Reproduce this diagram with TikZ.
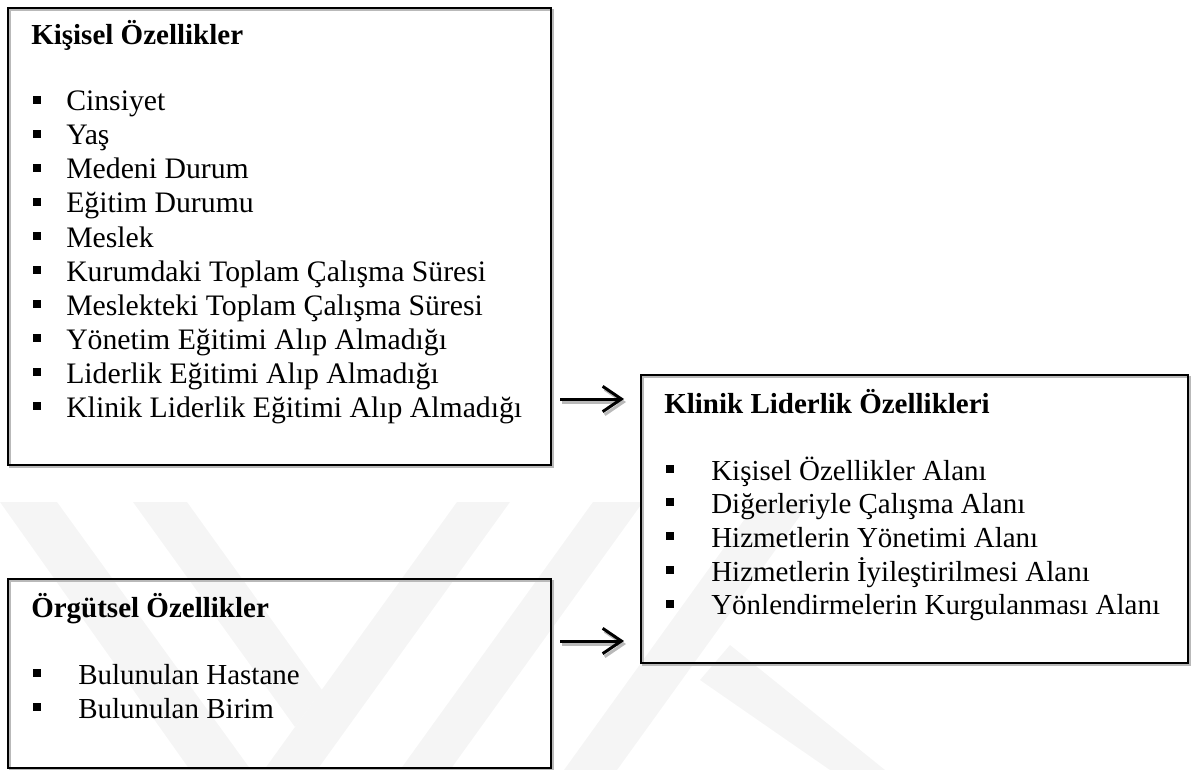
\documentclass[tikz,border=0pt]{standalone}
\usepackage{fontspec}
\setmainfont{Liberation Serif}
\usetikzlibrary{arrows.meta}
\newdimen\pxu \pxu=0.75pt
\begin{document}
\begin{tikzpicture}[x=0.75pt,y=-0.75pt,
  box/.style={draw=black, line width=2.2\pxu, anchor=north west, inner sep=0pt, outer sep=0pt},
  shbox/.style={draw=gray!55, line width=2\pxu, anchor=north west, inner sep=0pt, outer sep=0pt},
  ttl/.style={anchor=base west, inner sep=0pt, font=\fontsize{21.75pt}{25pt}\selectfont\bfseries},
  itm/.style={anchor=base west, inner sep=0pt, font=\fontsize{21.75pt}{25pt}\selectfont},
  itmb/.style={anchor=base west, inner sep=0pt, font=\fontsize{22.3pt}{25pt}\selectfont},
  bul/.style={fill=black, minimum width=7.5\pxu, minimum height=8\pxu, inner sep=0pt, anchor=south west},
  wm/.style={fill=gray!8, draw=none},
  arr/.style={draw=black, line width=3\pxu, -{Straight Barb[length=14pt,width=19pt]}, shorten <=6.75pt, shorten >=12.75pt},
  arrsh/.style={draw=gray!55, line width=3\pxu, -{Straight Barb[length=14pt,width=19pt]}, shorten <=6.75pt, shorten >=12.75pt}
]
\useasboundingbox (0,0) rectangle (1192,770);
% watermark
\begin{scope}
\clip (0,0) rectangle (1192,770);
\fill[wm] (0,502) -- (57,502) -- (251,770) -- (190,770) -- cycle;
\fill[wm] (133,502) -- (187,502) -- (322,690) -- (295,727) -- cycle;
\fill[wm] (457,502) -- (510,502) -- (317,770) -- (264,770) -- cycle;
\fill[wm] (593,502) -- (643,502) -- (450,770) -- (400,770) -- cycle;
\fill[wm] (757,502) -- (810,502) -- (617,770) -- (564,770) -- cycle;
\fill[wm] (700,680) -- (730,645) -- (885,770) -- (830,770) -- cycle;
\end{scope}
% boxes
\node[shbox, minimum width=543\pxu, minimum height=457\pxu] (box1s) at (10,10) {};
\node[box, minimum width=543\pxu, minimum height=457\pxu] (box1) at (8,8) {};
\node[shbox, minimum width=543\pxu, minimum height=189\pxu] (box2s) at (10,581) {};
\node[box, minimum width=543\pxu, minimum height=189\pxu] (box2) at (8,579) {};
\node[shbox, minimum width=547\pxu, minimum height=288\pxu] (box3s) at (643,377) {};
\node[box, minimum width=547\pxu, minimum height=288\pxu] (box3) at (641,375) {};
% box 1 text
\node[ttl] (t1) at (31,45) {Kişisel Özellikler};
\foreach \t [count=\i from 0] in {Cinsiyet, Yaş, Medeni Durum, Eğitim Durumu, Meslek,
  Kurumdaki Toplam Çalışma Süresi, Meslekteki Toplam Çalışma Süresi,
  Yönetim Eğitimi Alıp Almadığı, Liderlik Eğitimi Alıp Almadığı,
  Klinik Liderlik Eğitimi Alıp Almadığı}{
  \node[bul] (kb\i) at (33,{111+34*\i-7}) {};
  \node[itmb] (ki\i) at (66,{111+34*\i}) {\t};
}
% box 3 text
\node[ttl] (t3) at (664,413) {Klinik Liderlik Özellikleri};
\foreach \t [count=\i from 0] in {Kişisel Özellikler Alanı, Diğerleriyle Çalışma Alanı,
  Hizmetlerin Yönetimi Alanı, Hizmetlerin İyileştirilmesi Alanı,
  Yönlendirmelerin Kurgulanması Alanı}{
  \node[bul] (lb\i) at (666,{480+33.7*\i-7}) {};
  \node[itm] (li\i) at (711,{480+33.7*\i}) {\t};
}
% box 2 text
\node[ttl] (t2) at (31,617) {Örgütsel Özellikler};
\foreach \t [count=\i from 0] in {Bulunulan Hastane, Bulunulan Birim}{
  \node[bul] (ob\i) at (33,{684+34*\i-7}) {};
  \node[itm] (oi\i) at (78,{684+34*\i}) {\t};
}
% arrows
\coordinate (r1) at (0,399);
\coordinate (r2) at (0,641);
\begin{scope}[transform canvas={shift={(1.5pt,-2.25pt)}}]
\draw[arrsh] (box1.east |- r1) -- (box3.west |- r1);
\draw[arrsh] (box2.east |- r2) -- (box3.west |- r2);
\end{scope}
\draw[arr] (box1.east |- r1) -- (box3.west |- r1);
\draw[arr] (box2.east |- r2) -- (box3.west |- r2);
\end{tikzpicture}
\end{document}
